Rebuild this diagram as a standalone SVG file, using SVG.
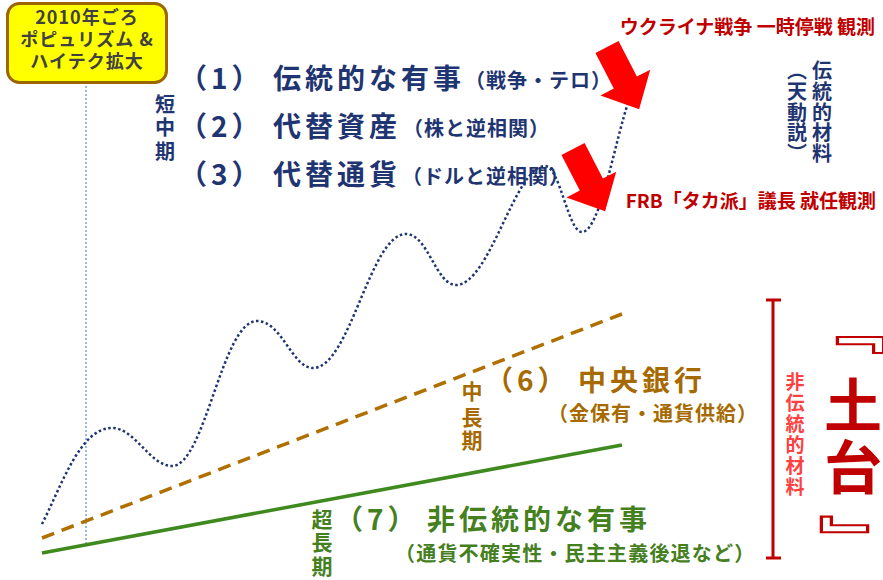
<svg xmlns="http://www.w3.org/2000/svg" width="883" height="580" viewBox="0 0 883 580">
<style>
text{font-family:"Noto Sans CJK JP","Noto Sans",sans-serif;font-weight:bold}
.nv{fill:#1f3572}
.big{font-size:28px;letter-spacing:4px}
.sm{font-size:20px;letter-spacing:1px}
.vc{text-anchor:middle}
.br{fill:#a66a00}
.gr{fill:#45801f}
.rd{fill:#c00000}
</style>
<rect width="883" height="580" fill="#ffffff"/>
<g id="connectors" fill="none">
  <line x1="86" y1="86" x2="86" y2="546" stroke="#9bb5f0" stroke-width="2" stroke-dasharray="2 2"/>
  <line x1="42" y1="538" x2="622" y2="314" stroke="#b07000" stroke-width="3.5" stroke-dasharray="13 8"/>
  <line x1="42" y1="553" x2="622" y2="445" stroke="#3e8a1f" stroke-width="3.5"/>
  <path d="M42,524 C62,485 80,428 112,428 C135,428 150,466 172,466 C205,466 222,321 257,321 C282,321 292,368 313,368 C350,368 370,234 406,234 C428,234 436,285 456,285 C490,285 515,166 545,166 C560,166 568,232 582,232 C600,232 615,140 629,100" stroke="#1f3572" stroke-width="2.5" stroke-dasharray="2.5 2.5"/>
  <path d="M766,300 H781 M773,300 V558 M766,558 H781" stroke="#c00000" stroke-width="3"/>
</g>
<g id="arrow1">
  <polygon points="0,-13 40,-13 40,-28 70,0 40,28 40,13 0,13" fill="#ff0000" transform="translate(607,47) rotate(62.7)"/>
</g>
<g id="arrow2">
  <polygon points="0,-13 40,-13 40,-28 70,0 40,28 40,13 0,13" fill="#ff0000" transform="translate(573,149) rotate(62.7)"/>
</g>
<g id="box2010">
  <rect x="7.5" y="3.5" width="159" height="79" rx="12" fill="#ffff00" stroke="#9c6500" stroke-width="3"/>
  <text x="87" y="24" font-size="18" fill="#404040" text-anchor="middle" letter-spacing="1">2010年ごろ</text>
  <text x="87" y="46" font-size="18" fill="#404040" text-anchor="middle" letter-spacing="1">ポピュリズム &amp;</text>
  <text x="87" y="68" font-size="18" fill="#404040" text-anchor="middle" letter-spacing="1">ハイテク拡大</text>
</g>
<g id="short-term" class="nv">
  <text class="vc" font-size="20"><tspan x="165" y="112">短</tspan><tspan x="165" y="135">中</tspan><tspan x="165" y="159">期</tspan></text>
  <text class="big" x="179" y="89" letter-spacing="5">（1）</text>
  <text class="big" x="273" y="89">伝統的な有事</text>
  <text class="sm" x="465" y="88">（戦争・テロ）</text>
  <text class="big" x="179" y="137" letter-spacing="5">（2）</text>
  <text class="big" x="273" y="137">代替資産</text>
  <text class="sm" x="403" y="136">（株と逆相関）</text>
  <text class="big" x="179" y="185" letter-spacing="5">（3）</text>
  <text class="big" x="273" y="185">代替通貨</text>
  <text class="sm" x="402" y="184">（ドルと逆相関）</text>
</g>
<g id="traditional" class="nv">
  <text class="vc" font-size="20"><tspan x="822" y="78">伝</tspan><tspan x="822" y="99">統</tspan><tspan x="822" y="120">的</tspan><tspan x="822" y="140">材</tspan><tspan x="822" y="161">料</tspan></text>
  <text class="vc" font-size="20"><tspan x="797" y="78">︵</tspan><tspan x="797" y="99">天</tspan><tspan x="797" y="120">動</tspan><tspan x="797" y="140">説</tspan><tspan x="797" y="161">︶</tspan></text>
</g>
<g id="news" class="rd">
  <text x="875" y="34" font-size="19" text-anchor="end">ウクライナ戦争 一時停戦 観測</text>
  <text x="876" y="208" font-size="19" text-anchor="end">FRB「タカ派」議長 就任観測</text>
</g>
<g id="mid-term" class="br">
  <text class="vc" font-size="21"><tspan x="472" y="399">中</tspan><tspan x="472" y="425">長</tspan><tspan x="472" y="448">期</tspan></text>
  <text class="big" x="485" y="391" letter-spacing="5">（6）</text>
  <text class="big" x="578" y="391" font-size="29">中央銀行</text>
  <text class="sm" x="548" y="421">（金保有・通貨供給）</text>
</g>
<g id="long-term" class="gr">
  <text class="vc" font-size="21"><tspan x="322" y="527">超</tspan><tspan x="322" y="550">長</tspan><tspan x="322" y="574">期</tspan></text>
  <text class="big" x="335" y="530" letter-spacing="5">（7）</text>
  <text class="big" x="427" y="530">非伝統的な有事</text>
  <text x="395" y="561" font-size="20" letter-spacing="1.2">（通貨不確実性・民主主義後退など）</text>
</g>
<g id="foundation">
  <text fill="#ff4040" font-size="19" text-anchor="middle"><tspan x="795" y="389">非</tspan><tspan x="795" y="410">伝</tspan><tspan x="795" y="431">統</tspan><tspan x="795" y="452">的</tspan><tspan x="795" y="473">材</tspan><tspan x="795" y="494">料</tspan></text>
  <text class="rd" font-size="58" text-anchor="middle"><tspan x="853" y="427">土</tspan><tspan x="853" y="489">台</tspan></text>
  <text class="rd" font-size="58" text-anchor="middle" transform="translate(850,331) rotate(90) scale(0.84,1.27) translate(0,22)">『</text>
  <text class="rd" font-size="58" text-anchor="middle" transform="translate(855,538) rotate(90) scale(0.82,1.28) translate(0,22)">』</text>
</g>
</svg>
